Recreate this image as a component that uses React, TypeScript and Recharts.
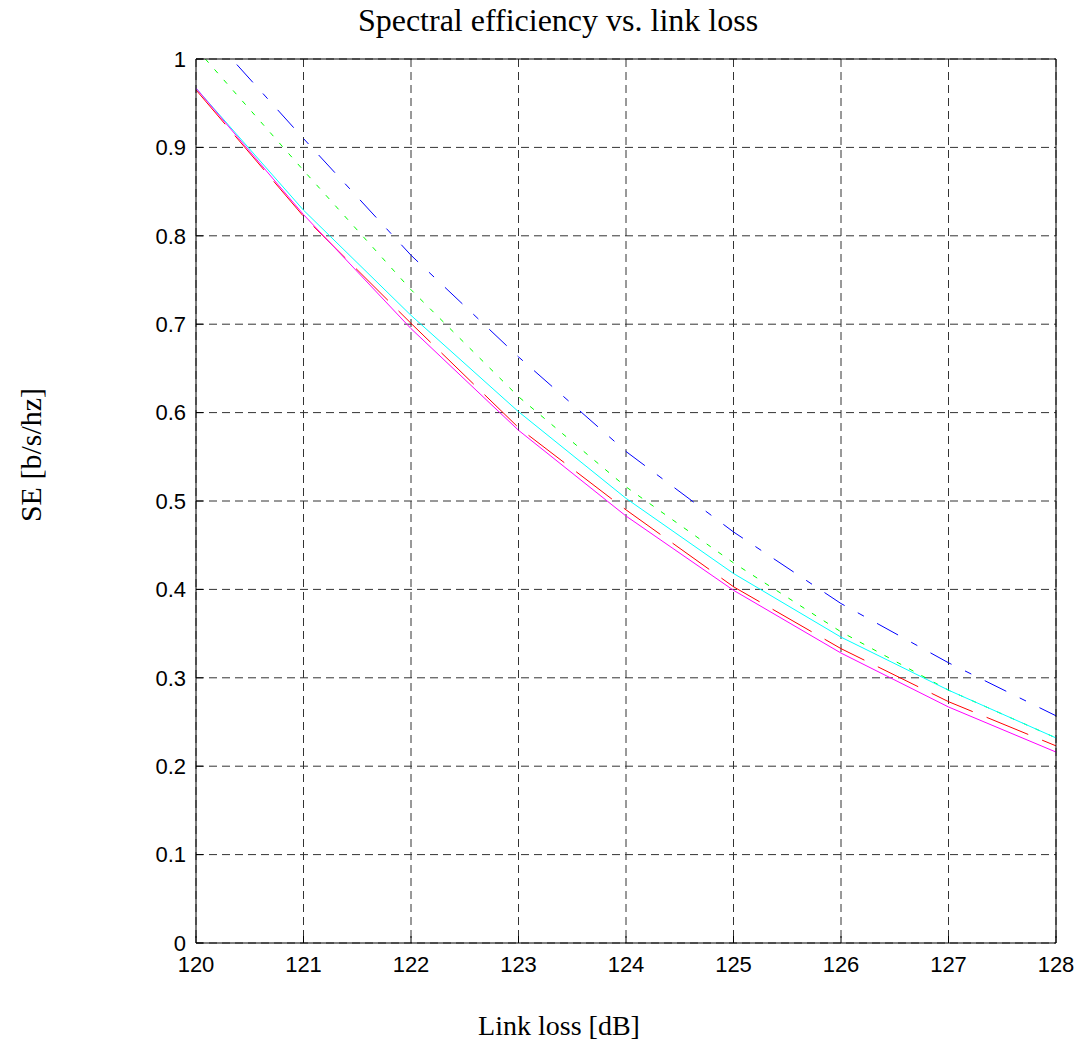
import React from 'react'
import { LineChart, Line, XAxis, YAxis, CartesianGrid } from 'recharts'

// link loss [dB]
const linkLoss = [120, 121, 122, 123, 124, 125, 126, 127, 128]

// spectral efficiency per curve
const seBlue = [1.045, 0.91, 0.778, 0.663, 0.556, 0.465, 0.384, 0.317, 0.257]
const seGreen = [1.012, 0.874, 0.739, 0.618, 0.516, 0.43, 0.352, 0.286, 0.232]
const seCyan = [0.967, 0.829, 0.71, 0.601, 0.503, 0.418, 0.346, 0.286, 0.232]
const seRed = [0.965, 0.822, 0.701, 0.583, 0.49, 0.403, 0.333, 0.273, 0.223]
const seMagenta = [0.967, 0.824, 0.695, 0.58, 0.483, 0.399, 0.328, 0.267, 0.216]

const xTicks = [120, 121, 122, 123, 124, 125, 126, 127, 128]
const yTicks = [0, 0.1, 0.2, 0.3, 0.4, 0.5, 0.6, 0.7, 0.8, 0.9, 1]
const yTickLabels = ['0', '0.1', '0.2', '0.3', '0.4', '0.5', '0.6', '0.7', '0.8', '0.9', '1']

const data = linkLoss.map((x, i) => ({
  x,
  blue: seBlue[i],
  green: seGreen[i],
  cyan: seCyan[i],
  red: seRed[i],
  magenta: seMagenta[i],
}))

const tickFont = { fontFamily: '"Liberation Sans", Arial, sans-serif', fontSize: 22, fill: '#000' }
const serif = '"Liberation Serif", "Times New Roman", serif'

export default function App() {
  return (
    <div style={{ position: 'absolute', left: 0, top: 0, width: 1081, height: 1047, background: '#fff' }}>
      <LineChart
        width={1081}
        height={1047}
        data={data}
        margin={{ top: 58, right: 24, bottom: 64, left: 136 }}
      >
        <CartesianGrid stroke="#333" strokeDasharray="8 5" xAxisId="bottom" yAxisId="left" />
        <XAxis
          xAxisId="bottom"
          dataKey="x"
          type="number"
          domain={[120, 128]}
          ticks={xTicks}
          interval={0}
          height={40}
          stroke="#000"
          tickSize={-7}
          tickMargin={20}
          tick={tickFont}
        />
        <XAxis
          xAxisId="top"
          orientation="top"
          dataKey="x"
          type="number"
          domain={[120, 128]}
          ticks={xTicks}
          height={1}
          stroke="#000"
          tickSize={-7}
          tick={false}
        />
        <YAxis
          yAxisId="left"
          type="number"
          domain={[0, 1]}
          allowDataOverflow
          ticks={yTicks}
          interval={0}
          width={60}
          stroke="#000"
          tickSize={-7}
          tickMargin={17}
          tick={tickFont}
          tickFormatter={(v: number) => yTickLabels[yTicks.indexOf(v)] ?? String(v)}
        />
        <YAxis
          yAxisId="right"
          orientation="right"
          type="number"
          domain={[0, 1]}
          ticks={yTicks}
          width={1}
          stroke="#000"
          tickSize={-7}
          tick={false}
        />
        <Line xAxisId="bottom" yAxisId="left" type="linear" dataKey="blue" stroke="#0000ff" strokeWidth={1}
          strokeDasharray="24 15 7 15" dot={false} isAnimationActive={false} />
        <Line xAxisId="bottom" yAxisId="left" type="linear" dataKey="green" stroke="#00ff00" strokeWidth={1}
          strokeDasharray="5 9" dot={false} isAnimationActive={false} />
        <Line xAxisId="bottom" yAxisId="left" type="linear" dataKey="cyan" stroke="#00ffff" strokeWidth={1}
          dot={false} isAnimationActive={false} />
        <Line xAxisId="bottom" yAxisId="left" type="linear" dataKey="red" stroke="#ff0000" strokeWidth={1}
          strokeDasharray="45 15" dot={false} isAnimationActive={false} />
        <Line xAxisId="bottom" yAxisId="left" type="linear" dataKey="magenta" stroke="#ff00ff" strokeWidth={1}
          dot={false} isAnimationActive={false} />
      </LineChart>
      <div style={{ position: 'absolute', left: 0, width: 1116, top: 2, textAlign: 'center', fontFamily: serif, fontSize: 32, color: '#000' }}>
        Spectral efficiency vs. link loss
      </div>
      <div style={{ position: 'absolute', left: 0, width: 1118, top: 1010, textAlign: 'center', fontFamily: serif, fontSize: 28, color: '#000' }}>
        Link loss [dB]
      </div>
      <div
        style={{
          position: 'absolute',
          left: 31,
          top: 455,
          transform: 'translate(-50%, -50%) rotate(-90deg)',
          whiteSpace: 'nowrap',
          fontFamily: serif,
          fontSize: 30,
          color: '#000',
        }}
      >
        SE [b/s/hz]
      </div>
    </div>
  )
}
